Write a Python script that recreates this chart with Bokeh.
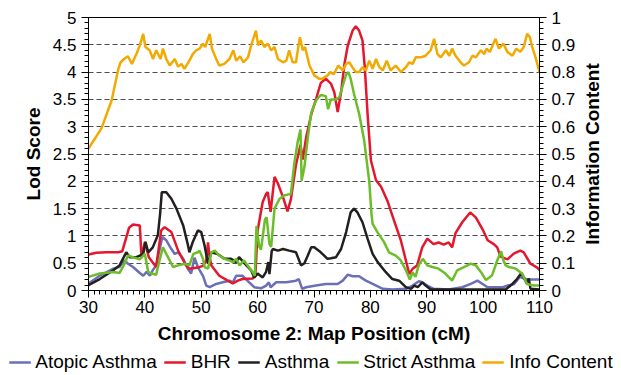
from bokeh.plotting import figure
from bokeh.layouts import row
from bokeh.models import (Range1d, LinearAxis, FixedTicker, Legend, LegendItem,
                          CustomJSTickFormatter)
from bokeh.embed import file_html
from bokeh.resources import INLINE

# ---------------- data ----------------
x_ticks = [30, 40, 50, 60, 70, 80, 90, 100, 110]
lod_ticks = [0, 0.5, 1, 1.5, 2, 2.5, 3, 3.5, 4, 4.5, 5]
info_ticks = [0, 0.1, 0.2, 0.3, 0.4, 0.5, 0.6, 0.7, 0.8, 0.9, 1]

atopic_asthma = [(30, 0.13), (32.0, 0.27), (34.4, 0.40), (35.5, 0.43), (36.4, 0.55), (37.0, 0.49),
                 (37.9, 0.43), (39.1, 0.32), (39.7, 0.27), (40.3, 0.34), (40.9, 0.27), (41.4, 0.37),
                 (42.0, 0.46), (42.5, 0.70), (43.1, 0.98), (43.8, 0.92), (44.7, 0.76), (45.3, 0.67),
                 (45.9, 0.70), (46.8, 0.58), (47.6, 0.40), (48.2, 0.31), (48.8, 0.60), (49.4, 0.43),
                 (50.3, 0.27), (50.9, 0.09), (51.5, 0.06), (52.65, 0.12), (53.8, 0.15), (55.0, 0.18),
                 (55.6, 0.15), (56.2, 0.27), (57.3, 0.27), (58.5, 0.15), (59.4, 0.06), (60.6, 0.04),
                 (61.5, 0.09), (62.0, 0.15), (62.3, 0.06), (63.3, 0.15), (65.1, 0.15), (66.8, 0.18),
                 (67.3, 0.21), (67.9, 0.03), (68.6, 0.06), (70.35, 0.09), (72.1, 0.12), (74.2, 0.12),
                 (75.1, 0.18), (76.0, 0.29), (76.85, 0.26), (78.0, 0.26), (79.2, 0.18), (80.4, 0.12),
                 (82.2, 0.03), (83.9, 0.02), (86.3, 0.03), (87.5, 0.09), (88.6, 0.17), (89.2, 0.15),
                 (90.1, 0.09), (91.2, 0.03), (93.9, 0.02), (96.3, 0.06), (97.8, 0.12), (99.0, 0.18),
                 (99.9, 0.12), (100.8, 0.06), (103.5, 0.06), (104.3, 0.09), (105.5, 0.12), (106.5, 0.25),
                 (107.3, 0.22), (108.0, 0.20), (110, 0.20)]

bhr = [(30, 0.66), (31.4, 0.69), (33.2, 0.70), (35.3, 0.70), (36.0, 0.72), (36.5, 0.90), (37.2, 1.15),
       (37.9, 1.21), (39.1, 1.19), (39.4, 0.61), (40.0, 0.89), (40.7, 0.61), (42.0, 0.43), (42.9, 1.10),
       (43.5, 1.16), (44.7, 1.07), (45.9, 0.73), (47.3, 0.46), (47.9, 0.40), (49.4, 0.42), (50.3, 0.45),
       (50.9, 0.55), (51.2, 0.88), (51.5, 0.60), (51.8, 0.46), (53.2, 0.27), (54.7, 0.18), (55.6, 0.13),
       (56.5, 0.18), (57.3, 0.21), (59.1, 0.22), (59.6, 0.27), (60.0, 1.10), (60.9, 1.62), (61.5, 1.77),
       (61.8, 1.80), (62.3, 1.44), (63.0, 2.08), (63.6, 1.96), (64.5, 1.71), (65.3, 1.45), (65.9, 1.67),
       (66.8, 2.30), (67.6, 2.67), (68.0, 2.40), (68.6, 2.80), (69.5, 3.22), (70.4, 3.52), (71.2, 3.80),
       (72.1, 3.88), (73.0, 3.79), (73.6, 3.63), (74.2, 3.27), (74.8, 3.63), (75.4, 4.15), (76.0, 4.49),
       (76.85, 4.76), (77.4, 4.84), (78.0, 4.76), (78.6, 4.58), (79.0, 4.10), (79.5, 3.24), (80.1, 2.38),
       (81.0, 2.02), (81.9, 1.90), (83.0, 1.65), (84.2, 1.28), (85.4, 0.92), (86.3, 0.55), (86.9, 0.30),
       (87.5, 0.40), (88.3, 0.46), (89.2, 0.79), (90.1, 0.95), (91.2, 0.85), (92.1, 0.88), (93.0, 0.84),
       (93.9, 0.88), (94.5, 0.79), (95.1, 1.05), (96.3, 1.25), (97.7, 1.43), (98.7, 1.34), (99.9, 1.12),
       (100.8, 0.92), (101.9, 0.85), (102.5, 0.79), (103.1, 0.62), (104.3, 0.57), (105.5, 0.68),
       (106.6, 0.73), (107.2, 0.70), (108.4, 0.49), (109.6, 0.42), (110, 0.37)]

asthma = [(30, 0.10), (32.0, 0.21), (34.4, 0.37), (35.5, 0.46), (36.4, 0.64), (36.7, 0.70), (37.3, 0.61),
          (38.5, 0.61), (39.1, 0.64), (39.7, 0.67), (40.1, 0.89), (40.6, 0.70), (41.4, 0.79), (42.3, 1.01),
          (42.7, 1.40), (43.0, 1.80), (43.8, 1.80), (44.7, 1.68), (45.6, 1.50), (46.8, 1.19), (47.6, 0.85),
          (47.9, 0.70), (48.5, 0.89), (49.4, 1.10), (50.0, 1.07), (50.6, 0.82), (51.2, 0.49), (51.8, 0.70),
          (52.9, 0.67), (54.1, 0.58), (55.3, 0.58), (56.2, 0.52), (56.7, 0.61), (58.0, 0.46), (58.85, 0.37),
          (59.4, 0.24), (60.0, 0.31), (60.9, 0.24), (61.5, 0.34), (61.9, 0.52), (62.1, 0.30), (62.5, 0.72),
          (62.7, 0.76), (63.6, 0.73), (64.5, 0.76), (65.6, 0.73), (66.8, 0.70), (67.7, 0.46), (68.3, 0.50),
          (68.9, 0.64), (69.5, 0.79), (70.05, 0.79), (71.2, 0.70), (72.4, 0.58), (73.0, 0.59), (73.9, 0.61),
          (74.8, 0.76), (75.7, 1.07), (76.5, 1.43), (77.1, 1.50), (77.7, 1.43), (78.6, 1.25), (79.5, 0.95),
          (80.4, 0.67), (81.3, 0.52), (82.7, 0.34), (83.9, 0.21), (85.1, 0.18), (86.3, 0.06), (87.2, 0.03),
          (87.8, 0.09), (88.4, 0.06), (89.2, 0.15), (89.8, 0.09), (90.7, 0.02), (104.0, 0.02), (105.2, 0.12),
          (106.0, 0.21), (106.8, 0.32), (107.2, 0.24), (107.8, 0.12), (108.1, 0.22), (108.4, 0.03), (110, 0.02)]

strict_asthma = [(30, 0.25), (32.0, 0.31), (34.4, 0.34), (35.5, 0.32), (36.4, 0.49), (37.0, 0.64),
                 (37.9, 0.61), (39.1, 0.57), (40.0, 0.67), (40.6, 0.34), (41.2, 0.31), (42.0, 0.29),
                 (42.6, 0.55), (43.2, 0.79), (44.1, 0.61), (45.0, 0.43), (45.9, 0.46), (47.1, 0.49),
                 (47.9, 0.46), (48.6, 0.67), (49.4, 0.70), (49.7, 0.73), (50.3, 0.58), (50.6, 0.43),
                 (51.2, 0.40), (51.8, 0.70), (52.4, 0.73), (53.2, 0.64), (54.1, 0.58), (55.0, 0.55),
                 (55.6, 0.52), (56.2, 0.58), (56.8, 0.46), (57.6, 0.55), (58.2, 0.46), (59.1, 0.34),
                 (59.5, 0.27), (59.8, 1.18), (60.3, 0.80), (60.6, 0.75), (61.3, 1.30), (61.6, 1.34),
                 (62.1, 0.85), (62.4, 0.80), (63.0, 1.50), (63.9, 1.68), (64.7, 1.74), (65.9, 1.77),
                 (66.5, 2.32), (67.1, 2.72), (67.6, 2.95), (67.8, 2.01), (68.3, 2.26), (68.9, 2.80),
                 (69.5, 3.25), (70.35, 3.48), (71.2, 3.58), (72.1, 3.56), (72.5, 3.32), (73.0, 3.50),
                 (73.9, 3.50), (74.5, 3.54), (75.1, 3.75), (75.7, 3.96), (76.1, 4.00), (76.5, 3.88),
                 (77.1, 3.60), (78.0, 3.24), (78.9, 2.75), (79.8, 2.00), (80.2, 1.40), (80.4, 1.22),
                 (81.3, 1.06), (82.4, 0.89), (83.3, 0.70), (84.5, 0.64), (85.4, 0.55), (86.3, 0.37),
                 (87.0, 0.20), (87.5, 0.33), (88.0, 0.25), (88.6, 0.47), (89.3, 0.58), (90.1, 0.46),
                 (91.0, 0.43), (92.1, 0.40), (93.3, 0.31), (94.5, 0.18), (95.4, 0.37), (96.6, 0.43),
                 (97.8, 0.49), (98.7, 0.46), (99.6, 0.34), (100.5, 0.19), (101.6, 0.28), (102.5, 0.55),
                 (103.2, 0.72), (103.6, 0.55), (104.0, 0.46), (104.6, 0.43), (105.8, 0.40), (106.9, 0.31),
                 (107.8, 0.12), (109.0, 0.09), (110, 0.09)]

info_content = [(30, 0.520), (32.3, 0.594), (34.1, 0.696), (35.3, 0.812), (35.7, 0.836), (36.3, 0.848),
                (37.0, 0.858), (37.7, 0.830), (38.5, 0.866), (39.1, 0.898), (39.7, 0.940), (40.1, 0.892),
                (40.85, 0.880), (41.45, 0.848), (42.0, 0.880), (42.8, 0.848), (43.2, 0.886), (43.8, 0.848),
                (44.4, 0.824), (45.3, 0.848), (45.9, 0.820), (46.5, 0.830), (47.0, 0.812), (47.9, 0.842),
                (48.5, 0.866), (49.1, 0.880), (49.7, 0.886), (50.3, 0.904), (50.7, 0.892), (51.5, 0.940),
                (51.9, 0.886), (52.65, 0.848), (53.2, 0.824), (54.1, 0.830), (55.0, 0.848), (55.7, 0.880),
                (56.2, 0.842), (56.9, 0.858), (57.5, 0.836), (58.3, 0.854), (58.85, 0.898), (59.3, 0.926),
                (59.7, 0.952), (60.1, 0.898), (60.6, 0.916), (61.2, 0.892), (61.8, 0.904), (62.4, 0.880),
                (63.0, 0.892), (63.6, 0.848), (64.5, 0.836), (65.1, 0.842), (65.6, 0.880), (66.2, 0.836),
                (66.8, 0.836), (67.5, 0.928), (68.0, 0.880), (68.4, 0.892), (69.2, 0.824), (70.05, 0.788),
                (70.9, 0.776), (71.5, 0.776), (72.4, 0.788), (72.9, 0.800), (73.5, 0.792), (74.3, 0.824),
                (75.1, 0.806), (75.7, 0.830), (76.25, 0.836), (76.8, 0.818), (77.4, 0.800), (78.0, 0.800),
                (78.6, 0.818), (79.2, 0.806), (79.8, 0.842), (80.4, 0.812), (81.0, 0.848), (81.6, 0.818),
                (82.2, 0.806), (82.9, 0.842), (83.6, 0.806), (84.5, 0.824), (85.4, 0.800), (86.3, 0.818),
                (86.9, 0.836), (87.5, 0.830), (88.05, 0.854), (88.9, 0.854), (89.8, 0.860), (90.7, 0.880),
                (91.3, 0.922), (91.9, 0.866), (92.5, 0.854), (93.4, 0.880), (94.0, 0.860), (94.5, 0.886),
                (95.1, 0.860), (96.0, 0.836), (96.6, 0.824), (97.5, 0.836), (98.1, 0.860), (98.7, 0.854),
                (99.6, 0.880), (100.2, 0.866), (100.6, 0.886), (101.2, 0.874), (101.8, 0.904), (102.2, 0.922),
                (102.8, 0.886), (103.6, 0.904), (104.3, 0.874), (105.2, 0.860), (105.9, 0.886), (106.6, 0.874),
                (107.2, 0.892), (107.8, 0.940), (108.3, 0.928), (108.7, 0.892), (109.3, 0.854), (110, 0.800)]

series_names = ["Atopic Asthma", "BHR", "Asthma", "Strict Asthma", "Info Content"]
series_colors = ["#6b6fb8", "#e3172d", "#231f20", "#6cbd2a", "#f2a900"]
right_title = "Information Content"

FONT = "Liberation Sans"

p = figure(frame_width=451, frame_height=273, output_backend="svg", toolbar_location=None,
           x_range=Range1d(30, 110), y_range=Range1d(0, 5),
           min_border_left=88, min_border_right=36, min_border_top=17, min_border_bottom=58,
           background_fill_color="white", border_fill_color="white")
p.extra_y_ranges = {"info": Range1d(0, 1)}
p.outline_line_color = "black"
p.outline_line_width = 1

fmt = CustomJSTickFormatter(code="return String(Math.round(tick*10)/10);")


def style_axis(ax):
    ax.axis_line_color = "black"
    ax.axis_line_width = 1
    ax.major_tick_line_color = "black"
    ax.minor_tick_line_color = "black"
    ax.major_tick_in = 0
    ax.major_tick_out = 7
    ax.minor_tick_in = 0
    ax.minor_tick_out = 4
    ax.major_label_text_font = FONT
    ax.major_label_text_font_size = "17px"
    ax.major_label_text_color = "black"
    ax.axis_label_text_font = FONT
    ax.axis_label_text_font_size = "19px"
    ax.axis_label_text_font_style = "bold"
    ax.axis_label_text_color = "black"


xa = p.xaxis[0]
xa.ticker = FixedTicker(ticks=x_ticks, minor_ticks=list(range(30, 111)))
xa.axis_label = "Chromosome 2: Map Position (cM)"
style_axis(xa)
xa.major_label_standoff = 3
xa.axis_label_standoff = 7

ya = p.yaxis[0]
ya.ticker = FixedTicker(ticks=lod_ticks, minor_ticks=[i / 10 for i in range(0, 51)])
ya.formatter = fmt
ya.axis_label = "Lod Score"
style_axis(ya)
ya.major_label_standoff = 5
ya.axis_label_standoff = 6

ra = LinearAxis(y_range_name="info")
ra.ticker = FixedTicker(ticks=info_ticks, minor_ticks=[i / 50 for i in range(0, 51)])
ra.formatter = fmt
style_axis(ra)
ra.major_label_standoff = 5
p.add_layout(ra, "right")

p.xgrid.visible = False
p.ygrid.ticker = FixedTicker(ticks=[0.5, 1, 1.5, 2, 2.5, 3, 3.5, 4, 4.5])
p.ygrid.grid_line_color = "#4d4d4d"
p.ygrid.grid_line_dash = "5 3"
p.ygrid.grid_line_width = 1

all_series = [atopic_asthma, bhr, asthma, strict_asthma, info_content]
for i, (data, col) in enumerate(zip(all_series, series_colors)):
    xs = [d[0] for d in data]
    ys = [d[1] for d in data]
    if i == 4:
        p.line(xs, ys, line_color=col, line_width=2.5, y_range_name="info")
    else:
        p.line(xs, ys, line_color=col, line_width=2.5)

# narrow strip on the right that carries the right-hand axis title (reads bottom-to-top)
rf = figure(frame_width=16, frame_height=273, output_backend="svg", toolbar_location=None,
            x_range=Range1d(0, 1), y_range=Range1d(0, 1), x_axis_type=None,
            min_border_left=30, min_border_right=0, min_border_top=17, min_border_bottom=0,
            background_fill_color="white", border_fill_color="white")
rf.outline_line_color = None
rf.grid.visible = False
ta = rf.yaxis[0]
ta.ticker = FixedTicker(ticks=[])
ta.axis_line_color = None
ta.major_tick_line_color = None
ta.minor_tick_line_color = None
ta.axis_label = right_title
ta.axis_label_text_font = FONT
ta.axis_label_text_font_size = "19px"
ta.axis_label_text_font_style = "bold"
ta.axis_label_text_color = "black"
ta.axis_label_standoff = 9

# legend strip (separate root so it spans the full page width)
lf = figure(width=621, height=27, output_backend="svg", toolbar_location=None,
            x_axis_type=None, y_axis_type=None, min_border=0,
            x_range=Range1d(0, 1), y_range=Range1d(0, 1),
            background_fill_color="white", border_fill_color="white")
lf.outline_line_color = None
# key glyphs only (their points sit outside the strip's range, so only the legend keys show)
key_renderers = [lf.line([2, 3], [2, 3], line_color=c, line_width=2.5) for c in series_colors]
legend = Legend(items=[LegendItem(label=n, renderers=[r]) for n, r in zip(series_names, key_renderers)],
                orientation="horizontal", location="center")
legend.label_text_font = FONT
legend.label_text_font_size = "19px"
legend.label_text_color = "black"
legend.glyph_width = 22
legend.label_height = 18
legend.glyph_height = 18
legend.label_standoff = 5
legend.spacing = 7
legend.padding = 0
legend.margin = 0
legend.border_line_color = None
legend.background_fill_alpha = 0
lf.add_layout(legend)

open("out.html", "w").write(file_html([row(p, rf, spacing=0), lf], INLINE))
